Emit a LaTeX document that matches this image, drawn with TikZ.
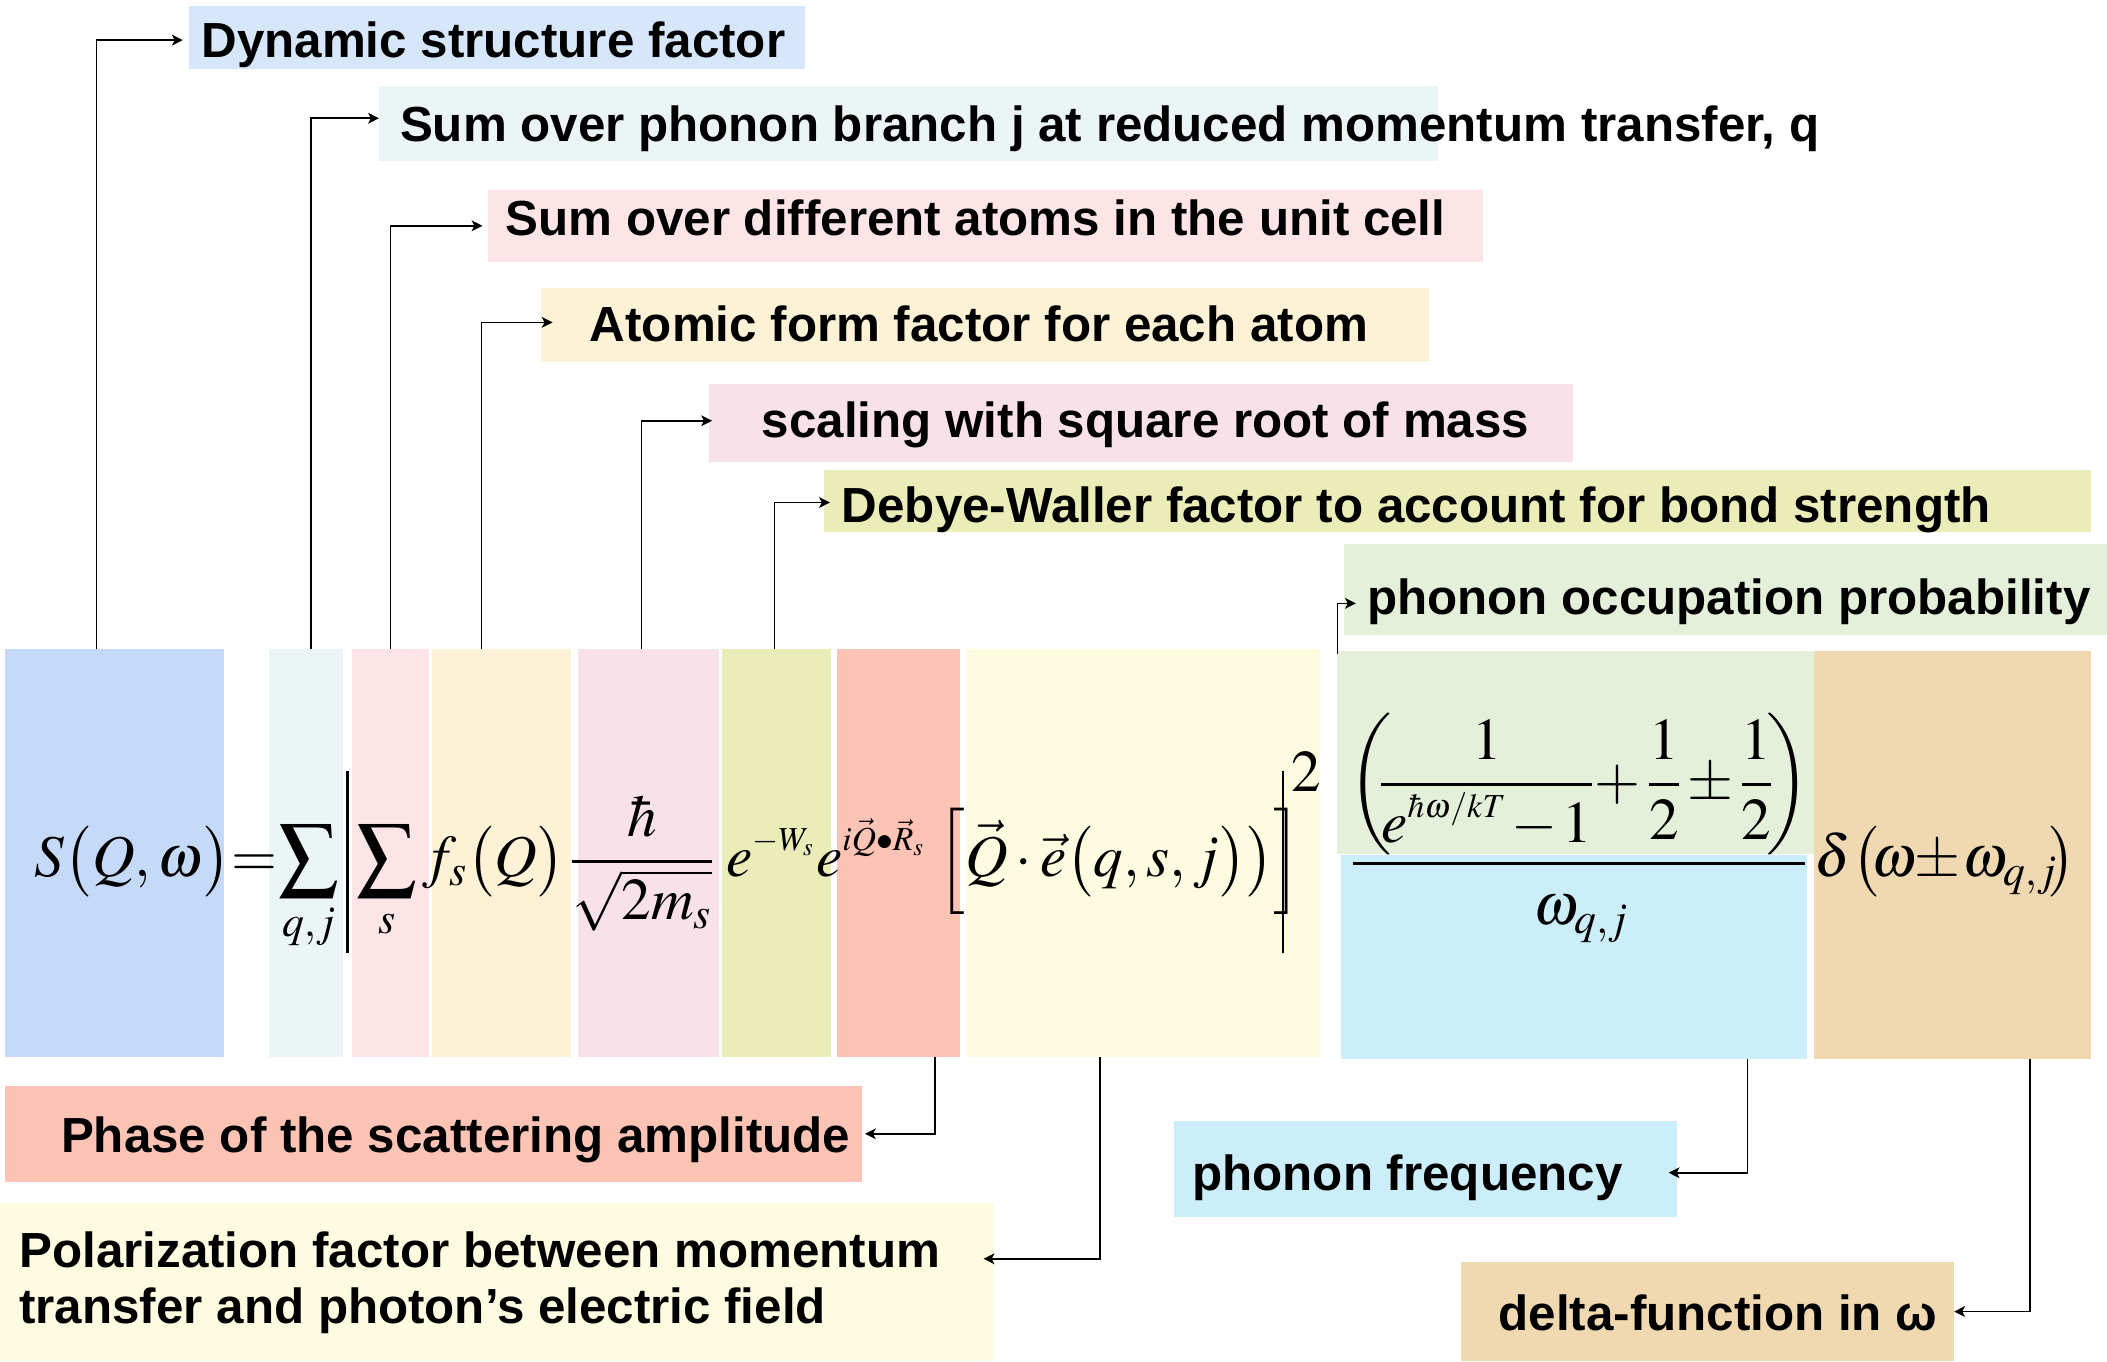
\documentclass[tikz,border=0pt]{standalone}
\usepackage{mathptmx}
\usepackage[no-math]{fontspec}
\setmainfont{Liberation Sans}
\usetikzlibrary{fit,arrows.meta}
\definecolor{cFS}{HTML}{C5D9F9}
\definecolor{cLA}{HTML}{D6E6FB}
\definecolor{cQJ}{HTML}{EBF5F6}
\definecolor{cSS}{HTML}{FDE5E7}
\definecolor{cFF}{HTML}{FDF2D6}
\definecolor{cHB}{HTML}{F9E1EA}
\definecolor{cDW}{HTML}{EAEDB8}
\definecolor{cPH}{HTML}{FDC3B5}
\definecolor{cPO}{HTML}{FDFCE0}
\definecolor{cOC}{HTML}{E4F0DA}
\definecolor{cFR}{HTML}{CCEEFB}
\definecolor{cDL}{HTML}{F0D9B1}
\newcommand{\supfont}{\fontsize{12.5}{14}\selectfont}
\begin{document}
\begin{tikzpicture}[x=0.5pt,y=-0.5pt,
  fbox/.style={inner sep=0pt, outer sep=0pt, draw=none, rectangle},
  ltext/.style={font=\fontsize{18.35}{22}\selectfont\bfseries, inner sep=0pt, anchor=base west},
  mth/.style={font=\fontsize{22}{26}\selectfont, inner sep=0pt, anchor=base west},
  arr/.style={line width=0.6pt, -{Stealth[length=4pt,width=4pt,inset=1pt]}},
  mbar/.style={line width=0.75pt}]
\useasboundingbox (0,0) rectangle (1568,1013);
% formula boxes
\node[fbox, fill=cFS, fit={(3.4,483) (166.4,786.4)}] (FS) {};
\node[fbox, fill=cQJ, fit={(199.9,483) (255.6,786.4)}] (FQJ) {};
\node[fbox, fill=cSS, fit={(262,483) (319.5,786.4)}] (FSS) {};
\node[fbox, fill=cFF, fit={(321.2,483) (424.7,786.4)}] (FF) {};
\node[fbox, fill=cHB, fit={(430,483) (535.3,786.4)}] (FH) {};
\node[fbox, fill=cDW, fit={(537.6,483) (618.4,786.4)}] (FDW) {};
\node[fbox, fill=cPH, fit={(623,483) (714.6,786.4)}] (FPH) {};
\node[fbox, fill=cPO, fit={(719,483) (982.4,786.4)}] (FPO) {};
\node[fbox, fill=cOC, fit={(995.3,484.5) (1350,635.5)}] (FOC) {};
\node[fbox, fill=cFR, fit={(997.8,636.5) (1345,788)}] (FFR) {};
\node[fbox, fill=cDL, fit={(1350,484.5) (1556,788)}] (FDL) {};
% label boxes
\node[fbox, fill=cLA, fit={(141,4.5) (599,51.6)}] (L1) {};
\node[fbox, fill=cQJ, fit={(282,64) (1070,120)}] (L2) {};
\node[fbox, fill=cSS, fit={(363,141.4) (1103.7,194.7)}] (L3) {};
\node[fbox, fill=cFF, fit={(402.6,214.3) (1063.4,269.5)}] (L4) {};
\node[fbox, fill=cHB, fit={(527.7,285.8) (1170.7,343.6)}] (L5) {};
\node[fbox, fill=cDW, fit={(613,349.8) (1556,395.7)}] (L6) {};
\node[fbox, fill=cOC, fit={(1000,405) (1568,472.6)}] (L7) {};
\node[fbox, fill=cPH, fit={(3.8,808) (641.7,879.5)}] (L8) {};
\node[fbox, fill=cPO, fit={(0,895.5) (740,1013)}] (L9) {};
\node[fbox, fill=cFR, fit={(873.6,834.3) (1247.8,905.5)}] (L10) {};
\node[fbox, fill=cDL, fit={(1087.3,939) (1454.3,1013)}] (L11) {};
% label texts
\node[ltext] (T1) at (149.6,43) {Dynamic structure factor};
\node[ltext] (T2) at (297.3,105.4) {Sum over phonon branch j at reduced momentum transfer, q};
\node[ltext] (T3) at (375.8,174.9) {Sum over different atoms in the unit cell};
\node[ltext] (T4) at (438.6,254) {Atomic form factor for each atom};
\node[ltext] (T5) at (566.6,325.5) {scaling with square root of mass};
\node[ltext] (T6) at (626.1,388.7) {Debye-Waller factor to account for bond strength};
\node[ltext] (T7) at (1017,457.5) {phonon occupation probability};
\node[ltext] (T8) at (45,858) {Phase of the scattering amplitude};
\node[ltext] (T9a) at (14,943.5) {Polarization factor between momentum};
\node[ltext] (T9b) at (14,985) {transfer and photon’s electric field};
\node[ltext] (T10) at (887,886) {phonon frequency};
\node[ltext] (T11) at (1114.8,990) {delta-function in ω};
% formula
\node[mth] (m1) at (25.6,652) {$S\bigl(Q,\omega\bigr)$};
\node[mth] (m2) at (172,652) {$=$};
\node[mth] (m3) at (207,652) {$\displaystyle\sum_{q,j}$};
\draw[mbar] (258.6,574) -- (258.6,709);
\node[mth] (m4) at (265,652) {$\displaystyle\sum_{s}$};
\node[mth] (m5) at (314,652) {$f_s\bigl(Q\bigr)$};
\node[mth, anchor=base] (m6) at (478,652) {$\displaystyle\frac{\hbar}{\sqrt{2m_s}}$};
\node[mth] (m7) at (540,652) {$e^{\raisebox{1.5pt}{\supfont$-W_s$}}$};
\node[mth] (m8) at (607,652) {$e^{\raisebox{1.5pt}{\supfont$i\vec{Q}{\bullet}\vec{R}_s$}}$};
\node[mth] (m9) at (697,652) {$\Bigl[\vec{Q}\cdot\vec{e}\bigl(q,s,j\bigr)\bigr)\Bigr]$};
\draw[mbar] (955,574) -- (955,709);
\node[mth] (m10) at (961,589) {$2$};
% occupation fraction
\node[mth] (lp) at (1003,594.7) {$\displaystyle\left(\vphantom{\frac{1}{e^{\hbar}}}\right.$};
\node[mth, anchor=base] (nf) at (1106.5,594.7) {$\displaystyle\frac{1}{e^{\raisebox{3pt}{\supfont$\hbar\omega/kT$}}\mkern-1mu-\mkern-1mu1}$};
\node[mth, anchor=base] (np) at (1203.5,594.7) {$+$};
\node[mth, anchor=base] (nh1) at (1238.3,594.7) {$\displaystyle\frac{1}{2}$};
\node[mth, anchor=base] (npm) at (1272.7,594.7) {$\pm$};
\node[mth, anchor=base] (nh2) at (1307.3,594.7) {$\displaystyle\frac{1}{2}$};
\node[mth, anchor=base east] (rp) at (1347,594.7) {$\displaystyle\left.\vphantom{\frac{1}{e^{\hbar}}}\right)$};
\draw[line width=1.2pt] (1007.2,642.5) -- (1343.3,642.5);
\node[mth] (den) at (1141,688) {$\omega_{q,j}$};
% delta
\node[mth] (d1) at (1350,652) {$\delta$};
\node[mth] (d2) at (1378,652) {$\bigl($};
\node[mth] (d3) at (1392,652) {$\omega$};
\node[mth, anchor=base] (d4) at (1442,652) {$\pm$};
\node[mth] (d5) at (1460,652) {$\omega_{q,j}$};
\node[mth] (d6) at (1524,652) {$\bigr)$};
% connector start points
\coordinate (s1) at (71.8,483);
\coordinate (s2) at (231.6,483);
\coordinate (s3) at (290.5,483);
\coordinate (s4) at (358.3,483);
\coordinate (s5) at (477.3,483);
\coordinate (s6) at (576.5,483);
\coordinate (s7) at (995.3,487);
\coordinate (s8) at (695.6,786.4);
\coordinate (s9) at (818.6,786.4);
\coordinate (s10) at (1300.4,788);
\coordinate (s11) at (1510.8,788);
% connectors
\draw[arr, shorten >=2.5pt] (s1) |- ([yshift=-0.9pt]L1.west);
\draw[arr] (s2) |- ([yshift=2pt]L2.west);
\draw[arr, shorten >=2pt] (s3) |- (L3.west);
\draw[arr] (s4) |- ([xshift=4.3pt,yshift=1pt]L4.west);
\draw[arr] (s5) |- ([xshift=1.1pt,yshift=0.8pt]L5.west);
\draw[arr] (s6) |- ([xshift=2.3pt,yshift=-0.6pt]L6.west);
\draw[arr] (s7) |- ([xshift=4.5pt,yshift=-5.1pt]L7.west);
\draw[arr, shorten >=1pt] (s8) |- (L8.east);
\draw[arr] (s9) |- ([xshift=-4pt,yshift=8.75pt]L9.east);
\draw[arr] (s10) |- ([xshift=-3pt,yshift=-1.4pt]L10.east);
\draw[arr] (s11) |- (L11.east);
\end{tikzpicture}
\end{document}
